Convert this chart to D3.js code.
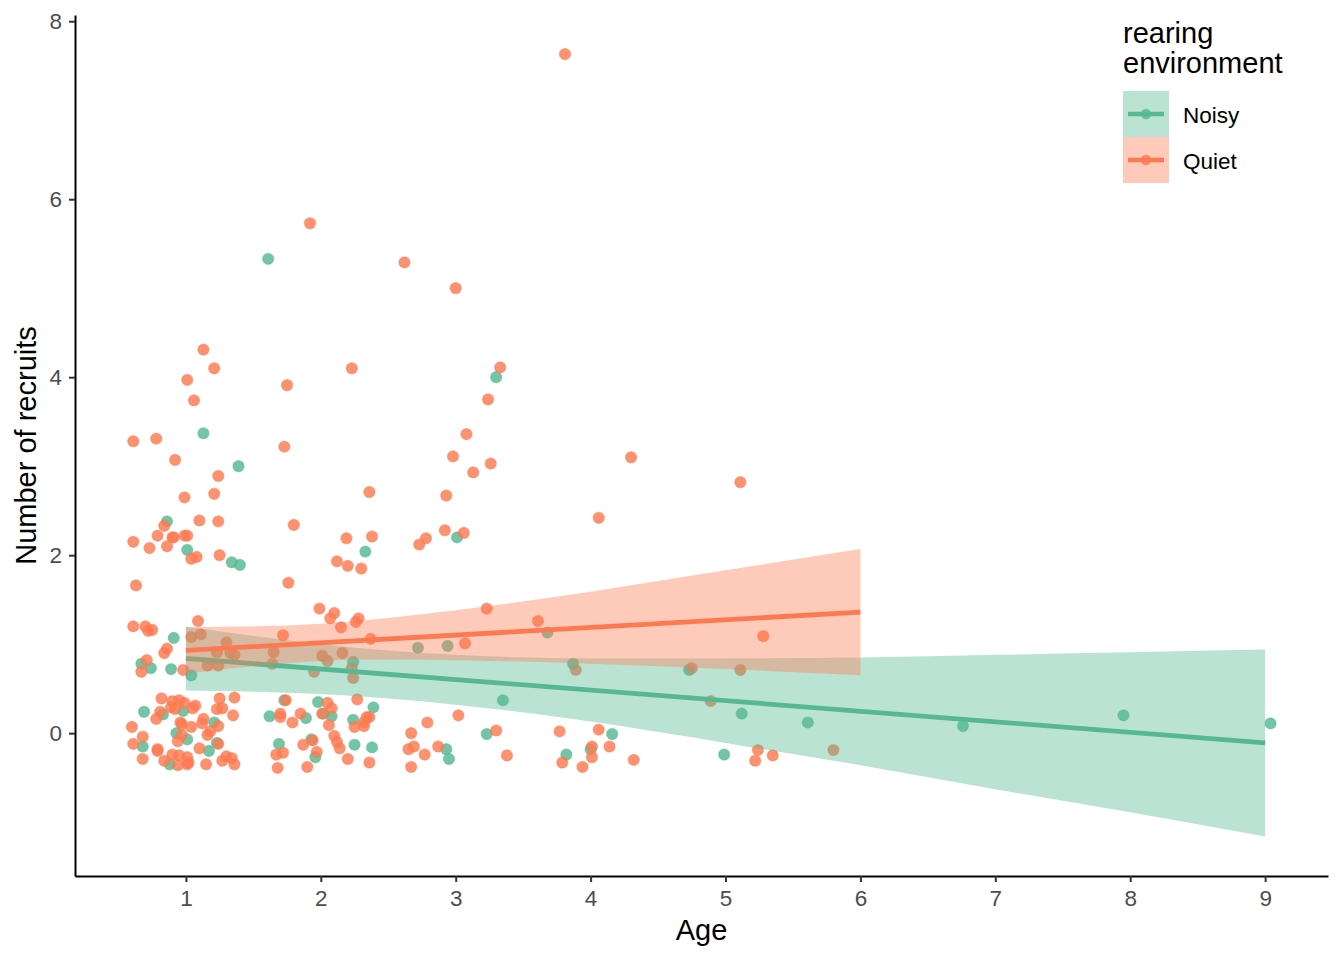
<!DOCTYPE html>
<html>
<head>
<meta charset="utf-8">
<script src="https://cdn.jsdelivr.net/npm/d3@7"></script>
<style>
  body { margin: 0; background: #fff; }
  text { font-family: "Liberation Sans", Arial, sans-serif; }
</style>
</head>
<body>
<svg width="1344" height="960"></svg>
<script>
// jittered observations, [age, number of recruits]
var noisyPoints = [
  [1.61,5.33],[3.30,4.00],[1.13,3.37],[1.39,3.00],[0.86,2.38],[1.01,2.06],[1.34,1.92],[1.40,1.89],[2.33,2.04],[3.01,2.20],
  [0.91,1.07],[0.67,0.78],[0.74,0.73],[0.89,0.72],[1.04,0.65],[0.98,0.25],[0.69,0.24],[0.83,0.21],[1.21,0.12],[0.93,0.00],
  [1.01,-0.07],[0.68,-0.15],[1.17,-0.20],[1.23,-0.11],[0.88,-0.35],
  [2.24,0.80],[1.73,0.37],[1.98,0.35],[2.02,0.22],[2.08,0.19],[1.62,0.19],[1.89,0.17],[2.39,0.29],[2.24,0.15],[1.69,-0.12],
  [1.93,-0.07],[1.96,-0.27],[2.25,-0.13],[2.38,-0.16],
  [2.72,0.96],[2.94,0.98],[3.35,0.37],[3.23,-0.01],[2.93,-0.18],[2.95,-0.29],
  [3.68,1.13],[3.87,0.78],[4.16,-0.01],[4.00,-0.18],[3.82,-0.24],
  [4.73,0.71],[5.12,0.22],[4.99,-0.24],[5.61,0.12],[6.76,0.08],[7.95,0.20],[9.04,0.11]
];
var quietPoints = [
  [3.81,7.63],[1.92,5.73],[2.62,5.29],[3.00,5.00],[1.13,4.31],[1.21,4.10],[1.01,3.97],[2.23,4.10],[1.75,3.91],[1.06,3.74],
  [0.61,3.28],[0.78,3.31],[1.73,3.22],[0.92,3.07],[1.24,2.89],[2.36,2.71],[1.21,2.69],[0.99,2.65],[0.84,2.33],[1.10,2.39],
  [1.24,2.38],[1.80,2.34],[0.79,2.22],[0.90,2.20],[0.91,2.20],[0.99,2.22],[1.01,2.22],[0.61,2.15],[0.73,2.08],[0.86,2.10],
  [1.04,1.96],[1.08,1.98],[1.25,2.00],[2.19,2.19],[2.38,2.21],[2.12,1.93],[2.20,1.88],[2.30,1.85],[0.63,1.66],[1.76,1.69],
  [1.99,1.40],[2.10,1.35],
  [3.33,4.11],[3.24,3.75],[3.08,3.36],[2.98,3.11],[3.26,3.03],[3.13,2.93],[2.93,2.67],[2.92,2.28],[3.06,2.25],[2.78,2.19],
  [2.73,2.12],[3.23,1.40],[4.30,3.10],[4.06,2.42],[5.11,2.82],
  [0.61,1.20],[0.70,1.20],[0.72,1.15],[0.75,1.16],[1.09,1.26],[0.86,0.95],[0.84,0.90],[1.04,1.08],[1.11,1.11],[1.30,1.02],
  [1.23,0.91],[1.33,0.90],[1.36,0.88],[0.71,0.82],[0.67,0.69],[0.98,0.71],[1.16,0.76],[1.24,0.76],
  [0.82,0.39],[0.90,0.36],[0.95,0.37],[0.99,0.34],[0.89,0.29],[0.92,0.27],[1.07,0.31],[1.05,0.28],[1.25,0.39],[1.36,0.40],
  [1.23,0.27],[1.27,0.28],[1.35,0.20],[0.81,0.24],[0.78,0.16],[0.96,0.12],[0.97,0.10],[1.04,0.07],[1.13,0.16],[1.12,0.11],
  [1.24,0.08],[1.18,0.02],[0.60,0.07],[0.68,-0.04],[0.97,-0.02],[0.94,-0.09],[1.16,-0.02],[0.61,-0.12],[0.79,-0.18],[0.79,-0.20],
  [1.10,-0.17],[1.24,-0.12],[0.68,-0.29],[0.84,-0.31],[0.90,-0.24],[0.95,-0.25],[1.01,-0.27],[1.02,-0.33],[1.01,-0.35],[0.94,-0.36],
  [1.15,-0.35],[1.27,-0.31],[1.30,-0.26],[1.34,-0.28],[1.36,-0.35],
  [2.07,1.29],[2.15,1.19],[2.26,1.25],[2.28,1.29],[1.72,1.10],[2.37,1.06],[1.65,0.91],[2.01,0.87],[2.05,0.81],[2.16,0.90],
  [1.64,0.78],[2.23,0.73],[2.24,0.62],[1.95,0.69],[1.74,0.37],[2.05,0.34],[2.08,0.28],[2.01,0.22],[1.70,0.22],[1.70,0.18],
  [1.85,0.22],[1.79,0.12],[2.06,0.09],[2.27,0.38],[2.34,0.18],[2.36,0.18],[2.32,0.12],[2.25,0.07],[2.32,0.08],
  [1.67,-0.24],[1.72,-0.22],[1.87,-0.13],[1.94,-0.08],[2.10,-0.03],[2.12,-0.10],[2.14,-0.17],[1.97,-0.21],[2.20,-0.29],[2.36,-0.33],
  [1.68,-0.39],[1.90,-0.38],
  [3.07,1.01],[3.02,0.20],[2.79,0.12],[2.67,0.00],[3.30,0.03],[2.65,-0.18],[2.69,-0.15],[2.77,-0.24],[2.87,-0.15],[3.38,-0.25],
  [2.67,-0.38],
  [3.61,1.26],[3.89,0.71],[3.77,0.02],[4.06,0.04],[4.01,-0.15],[4.14,-0.15],[3.79,-0.33],[4.01,-0.27],[3.94,-0.38],[4.32,-0.30],
  [5.28,1.09],[4.75,0.73],[5.11,0.71],[4.89,0.36],[5.24,-0.19],[5.22,-0.31],[5.35,-0.25],[5.80,-0.19]
];

// fitted lines and confidence bands
var noisyFitAge = [1, 9];
var noisyFitValue = [0.84, -0.11];
var quietFitAge = [1, 6];
var quietFitValue = [0.93, 1.36];

var noisyBandAge = [1, 2, 3, 4, 5, 6, 7, 8, 9];
var noisyBandLower = [0.48, 0.44, 0.32, 0.13, -0.11, -0.36, -0.63, -0.89, -1.16];
var noisyBandUpper = [1.20, 1.00, 0.88, 0.84, 0.84, 0.85, 0.88, 0.91, 0.94];
var quietBandAge = [1, 2, 3, 4, 5, 6];
var quietBandLower = [0.67, 0.81, 0.82, 0.78, 0.72, 0.65];
var quietBandUpper = [1.19, 1.23, 1.38, 1.59, 1.83, 2.07];

var xTicks = [1, 2, 3, 4, 5, 6, 7, 8, 9];
var yTicks = [0, 2, 4, 6, 8];
var groups = ['Noisy', 'Quiet'];
var colors = {Noisy: '#56B893', Quiet: '#FC7A52'};

var margin = {top: 15, right: 16, bottom: 84, left: 75};
var width = 1344, height = 960;

var xScale = d3.scaleLinear()
    .domain([0.178, 9.466])
    .range([margin.left, width - margin.right]);
var yScale = d3.scaleLinear()
    .domain([-1.605, 8.07])
    .range([height - margin.bottom, margin.top]);

var svg = d3.select('svg');
svg.append('rect').attr('width', width).attr('height', height).attr('fill', '#fff');

// points first, smooths drawn over them
function drawPoints(pts, col) {
    svg.append('g').selectAll('circle')
        .data(pts)
        .enter().append('circle')
        .attr('cx', d => xScale(d[0]))
        .attr('cy', d => yScale(d[1]))
        .attr('r', 5.6)
        .attr('fill', col)
        .attr('fill-opacity', 0.82)
        .attr('stroke', col)
        .attr('stroke-opacity', 0.45)
        .attr('stroke-width', 1.2);
}
drawPoints(noisyPoints, colors.Noisy);
drawPoints(quietPoints, colors.Quiet);

var area = d3.area()
    .x(d => xScale(d.x))
    .y0(d => yScale(d.lo))
    .y1(d => yScale(d.hi))
    .curve(d3.curveNatural);
var line = d3.line()
    .x(d => xScale(d.x))
    .y(d => yScale(d.y));

function drawSmooth(bx, lo, hi, fx, fy, col) {
    var band = bx.map((x, i) => ({x: x, lo: lo[i], hi: hi[i]}));
    svg.append('path')
        .datum(band)
        .attr('d', area)
        .attr('fill', col)
        .attr('fill-opacity', 0.4);
    svg.append('path')
        .datum(fx.map((x, i) => ({x: x, y: fy[i]})))
        .attr('d', line)
        .attr('fill', 'none')
        .attr('stroke', col)
        .attr('stroke-width', 4.8);
}
drawSmooth(noisyBandAge, noisyBandLower, noisyBandUpper, noisyFitAge, noisyFitValue, colors.Noisy);
drawSmooth(quietBandAge, quietBandLower, quietBandUpper, quietFitAge, quietFitValue, colors.Quiet);

// axes
var xAxis = d3.axisBottom(xScale).tickValues(xTicks).tickSize(6).tickSizeOuter(0).tickPadding(8);
var yAxis = d3.axisLeft(yScale).tickValues(yTicks).tickSize(6).tickSizeOuter(0).tickPadding(7);

var gx = svg.append('g')
    .attr('transform', 'translate(' + [0, height - margin.bottom] + ')')
    .call(xAxis);
var gy = svg.append('g')
    .attr('transform', 'translate(' + [margin.left, 0] + ')')
    .call(yAxis);

[gx, gy].forEach(function(g) {
    g.select('.domain').attr('stroke', '#000').attr('stroke-width', 2);
    g.selectAll('.tick line').attr('stroke', '#333').attr('stroke-width', 2);
    g.selectAll('.tick text')
        .attr('fill', '#4D4D4D')
        .style('font-size', '22.5px')
        .style('font-family', '"Liberation Sans", Arial, sans-serif');
});

svg.append('text')
    .attr('x', (margin.left + width - margin.right) / 2)
    .attr('y', 940)
    .attr('text-anchor', 'middle')
    .style('font-size', '29px')
    .text('Age');

svg.append('text')
    .attr('transform', 'translate(36,' + (margin.top + height - margin.bottom) / 2 + ') rotate(-90)')
    .attr('text-anchor', 'middle')
    .style('font-size', '29px')
    .text('Number of recruits');

// legend
var legend = svg.append('g').attr('transform', 'translate(1123,0)');
legend.append('text').attr('x', 0).attr('y', 43).style('font-size', '29px').text('rearing');
legend.append('text').attr('x', 0).attr('y', 73).style('font-size', '29px').text('environment');

groups.forEach(function(g, i) {
    var y0 = 91 + i * 46;
    var key = legend.append('g').attr('transform', 'translate(0,' + y0 + ')');
    key.append('rect')
        .attr('width', 46).attr('height', 46)
        .attr('fill', colors[g]).attr('fill-opacity', 0.4);
    key.append('line')
        .attr('x1', 5).attr('x2', 41).attr('y1', 23).attr('y2', 23)
        .attr('stroke', colors[g]).attr('stroke-width', 4.5);
    key.append('circle')
        .attr('cx', 23).attr('cy', 23).attr('r', 5.3)
        .attr('fill', colors[g]).attr('fill-opacity', 0.82);
    key.append('text')
        .attr('x', 60).attr('y', 32)
        .style('font-size', '22.5px')
        .text(g);
});
</script>
</body>
</html>
